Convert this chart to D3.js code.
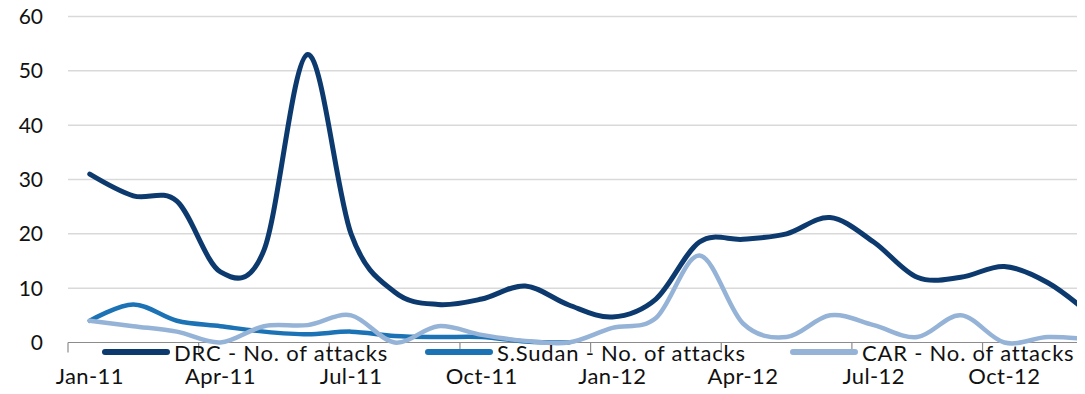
<!DOCTYPE html>
<html>
<head>
<meta charset="utf-8">
<script src="https://cdn.jsdelivr.net/npm/d3@7"></script>
<style>
  body { margin: 0; background: #fff; }
  text { font-family: Lato, "Open Sans", sans-serif; fill: #111; }
</style>
</head>
<body>
<svg id="chart"></svg>
<script>
const months = ["Jan-11","Feb-11","Mar-11","Apr-11","May-11","Jun-11","Jul-11","Aug-11","Sep-11","Oct-11","Nov-11","Dec-11",
                "Jan-12","Feb-12","Mar-12","Apr-12","May-12","Jun-12","Jul-12","Aug-12","Sep-12","Oct-12","Nov-12","Dec-12"];
const drc     = [31, 27, 26, 13, 17, 53, 20, 9.3, 7, 8, 10.4, 6.9, 4.7, 8, 18.5, 19, 20, 23, 18.5, 12, 12, 14, 11, 5];
const sSudan  = [4, 7, 4, 3, 2, 1.5, 2, 1.2, 1, 1, 0.2, 0, null, null, null, null, null, null, null, null, null, null, null, null];
const car     = [4, 3, 2, 0, 3, 3.2, 5, 0, 3, 1.4, 0.3, 0, 2.7, 4.5, 16, 3.5, 1, 5, 3.2, 1, 5, 0, 1, 0.5];
const seriesNames = ["DRC - No. of attacks", "S.Sudan - No. of attacks", "CAR - No. of attacks"];
const yTicks = [0, 10, 20, 30, 40, 50, 60];

const width = 1085, height = 394;
const margin = {left: 68, right: 8, top: 16.5, bottom: 51.5};
const clipRight = width - margin.right;
const step = 43.55;

const svg = d3.select("#chart").attr("width", width).attr("height", height);

const x = d3.scaleBand()
    .domain(months)
    .range([margin.left, margin.left + step * months.length]);
const cx = m => x(m) + x.bandwidth() / 2;

const y = d3.scaleLinear()
    .domain([0, 60])
    .range([height - margin.bottom, margin.top]);

// gridlines
svg.append("g")
    .selectAll("line")
    .data(yTicks.filter(d => d > 0))
    .join("line")
    .attr("x1", margin.left)
    .attr("x2", clipRight)
    .attr("y1", d => y(d))
    .attr("y2", d => y(d))
    .attr("stroke", "#d9d9d9")
    .attr("stroke-width", 1.5);

// y labels
svg.append("g")
    .selectAll("text")
    .data(yTicks)
    .join("text")
    .attr("x", 43)
    .attr("y", d => y(d))
    .attr("dy", "0.35em")
    .attr("text-anchor", "end")
    .style("font-size", "21px")
    .text(d => d);

// x axis line + ticks between categories every 3 months
const axis = svg.append("g");
axis.append("line")
    .attr("x1", margin.left).attr("x2", clipRight)
    .attr("y1", y(0)).attr("y2", y(0))
    .attr("stroke", "#8c8c8c").attr("stroke-width", 1.2);
axis.selectAll("line.tick")
    .data(months.filter((d, i) => i % 3 === 0))
    .join("line")
    .attr("class", "tick")
    .attr("x1", d => x(d)).attr("x2", d => x(d))
    .attr("y1", y(0)).attr("y2", y(0) + 10)
    .attr("stroke", "#8c8c8c").attr("stroke-width", 1.2);
axis.selectAll("text")
    .data(months.filter((d, i) => i % 3 === 0))
    .join("text")
    .attr("x", d => cx(d))
    .attr("y", 384)
    .attr("text-anchor", "middle")
    .style("font-size", "22px")
    .style("letter-spacing", "0.4px")
    .text(d => d);

// lines
svg.append("clipPath").attr("id", "clip")
    .append("rect")
    .attr("x", 0).attr("y", 0)
    .attr("width", clipRight).attr("height", height);

const line = d3.line()
    .defined(d => d[1] != null)
    .x(d => cx(d[0]))
    .y(d => y(d[1]))
    .curve(d3.curveCardinal.tension(0));

const series = [
    {name: seriesNames[0], values: drc, color: "#0d3a6e", w: 5},
    {name: seriesNames[1], values: sSudan, color: "#1b72b5", w: 4.5},
    {name: seriesNames[2], values: car, color: "#95b3d7", w: 4.5}
];

svg.append("g")
    .attr("clip-path", "url(#clip)")
    .attr("fill", "none")
    .attr("stroke-linecap", "round")
    .attr("stroke-linejoin", "round")
    .selectAll("path")
    .data(series)
    .join("path")
    .attr("stroke", d => d.color)
    .attr("stroke-width", d => d.w)
    .attr("d", d => line(months.map((m, i) => [m, d.values[i]])));

// legend
const legendX = [105, 428, 793];
const legend = svg.append("g")
    .selectAll("g")
    .data(series)
    .join("g")
    .attr("transform", (d, i) => `translate(${legendX[i]}, 352)`);
legend.append("line")
    .attr("x1", 0).attr("x2", 62)
    .attr("stroke", d => d.color)
    .attr("stroke-width", 6)
    .attr("stroke-linecap", "round");
legend.append("text")
    .attr("x", 69)
    .attr("y", 9)
    .style("font-size", "22px")
    .style("letter-spacing", "0.8px")
    .text(d => d.name);
</script>
</body>
</html>
